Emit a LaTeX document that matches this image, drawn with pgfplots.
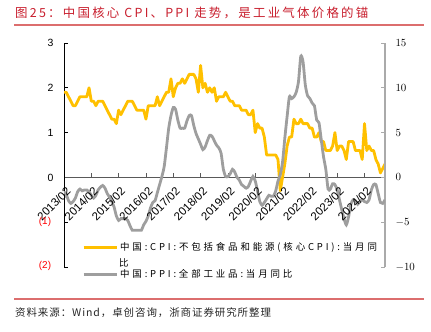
\documentclass[border=0pt]{standalone}
\usepackage{fontspec}
\setmainfont{Liberation Sans}
\newfontfamily\titlefont[LetterSpace=18]{Noto Sans CJK SC}
\newfontfamily\legfont[LetterSpace=30]{Noto Sans CJK SC}
\newfontfamily\srcfont[LetterSpace=9]{Noto Sans CJK SC}
\usepackage{pgfplots}
\usepackage{pgfplotstable}
\pgfplotsset{compat=1.18}
\definecolor{cpiY}{RGB}{255,192,0}
\definecolor{ppiG}{RGB}{158,158,158}
\definecolor{titleR}{RGB}{200,30,45}
\definecolor{lineR}{RGB}{220,110,110}
\definecolor{axisG}{RGB}{170,170,170}
\definecolor{darkG}{RGB}{89,89,89}
\tikzset{xlab/.style={rotate=45, anchor=north east, inner sep=0pt, font=\fontsize{11.5}{13}\selectfont}}

\pgfplotstableread{
m cpi ppi
0 1.9 -1.6
1 1.9 -1.9
2 1.8 -2.6
3 1.7 -2.9
4 1.6 -2.7
5 1.6 -2.3
6 1.7 -1.6
7 1.8 -1.3
8 1.8 -1.5
9 1.8 -1.4
10 1.8 -1.4
11 2.0 -1.6
12 1.7 -2.0
13 1.7 -2.3
14 1.6 -2.0
15 1.7 -1.4
16 1.7 -1.1
17 1.7 -0.9
18 1.6 -1.2
19 1.5 -1.8
20 1.4 -2.2
21 1.3 -2.7
22 1.3 -3.3
23 1.2 -4.3
24 1.5 -4.8
25 1.4 -4.6
26 1.5 -4.6
27 1.6 -4.6
28 1.7 -4.8
29 1.7 -5.4
30 1.7 -5.9
31 1.6 -5.9
32 1.5 -5.9
33 1.5 -5.9
34 1.5 -5.9
35 1.5 -5.3
36 1.3 -4.9
37 1.6 -4.3
38 1.6 -3.4
39 1.6 -2.8
40 1.6 -2.6
41 1.8 -1.7
42 1.6 -0.8
43 1.7 0.1
44 1.8 1.2
45 1.9 3.3
46 1.9 5.5
47 2.2 6.9
48 1.8 7.8
49 2.0 7.6
50 2.1 6.4
51 2.1 5.5
52 2.2 5.5
53 2.1 5.5
54 2.2 6.3
55 2.3 6.9
56 2.3 6.9
57 2.3 5.8
58 2.2 4.9
59 1.9 4.3
60 2.5 3.7
61 2.0 3.1
62 2.1 3.4
63 1.9 4.1
64 2.0 4.7
65 1.9 4.6
66 2.0 4.1
67 1.7 3.6
68 1.8 3.3
69 1.8 2.7
70 1.8 0.9
71 1.9 0.1
72 1.8 0.1
73 1.7 0.4
74 1.7 0.9
75 1.6 0.6
76 1.6 0.0
77 1.6 -0.3
78 1.5 -0.8
79 1.5 -1.0
80 1.5 -1.2
81 1.4 -1.0
82 1.4 -0.4
83 1.5 0.1
84 1.0 -0.4
85 1.2 -1.5
86 1.1 -2.7
87 1.1 -3.1
88 0.9 -2.8
89 0.5 -2.4
90 0.5 -2.0
91 0.5 -2.1
92 0.5 -2.1
93 0.5 -1.5
94 0.4 -0.4
95 -0.3 0.3
96 0.0 1.7
97 0.3 4.4
98 0.7 6.8
99 0.9 9.0
100 0.9 8.8
101 1.3 9.0
102 1.2 9.5
103 1.2 10.7
104 1.3 13.5
105 1.2 12.9
106 1.2 10.3
107 1.2 9.1
108 1.1 8.8
109 1.1 8.3
110 0.9 8.0
111 0.9 6.4
112 1.0 6.1
113 0.8 4.2
114 0.8 2.3
115 0.6 0.9
116 0.6 -1.3
117 0.6 -1.3
118 0.7 -0.7
119 1.0 -0.8
120 0.6 -1.4
121 0.7 -2.5
122 0.7 -3.6
123 0.6 -4.6
124 0.4 -5.3
125 0.8 -4.4
126 0.8 -3.0
127 0.8 -2.5
128 0.6 -2.6
129 0.6 -3.0
130 0.6 -2.7
131 0.4 -2.5
132 1.2 -2.7
133 0.6 -2.8
134 0.7 -2.5
135 0.6 -1.4
136 0.6 -0.8
137 0.4 -0.8
138 0.3 -1.8
139 0.1 -2.8
140 0.2 -2.9
141 0.3 -2.5
}\data

\begin{document}
\begin{tikzpicture}[x=1bp,y=1bp]
\path[use as bounding box] (0,0) rectangle (431,332);
% title and rules
\node[anchor=west, inner sep=0pt, text=titleR, font=\titlefont\fontsize{12.5}{14}\selectfont] at (15,319) {图25：中国核心 CPI、PPI 走势，是工业气体价格的锚};
\draw[lineR, line width=1.3bp] (14,307) -- (424,307);
\draw[lineR, line width=1.3bp] (14,33) -- (424,33);
\node[anchor=west, inner sep=0pt, text=black!85, font=\srcfont\fontsize{10.5}{12}\selectfont] at (15,19) {资料来源：Wind，卓创咨询，浙商证券研究所整理};

\begin{axis}[
  at={(64bp,65bp)}, anchor=south west,
  scale only axis, width=321bp, height=224bp,
  xmin=0, xmax=141, ymin=-2, ymax=3,
  axis y line*=left, axis x line*=middle,
  ytick={-2,-1,0,1,2,3}, yticklabels={,,0,1,2,3},
  xtick={0,12,...,132}, xticklabels={},
  tick align=inside, major tick length=4bp,
  x axis line style={draw=darkG, line width=1.2bp},
  y axis line style={draw=black, line width=1bp},
  xtick style={draw=darkG, line width=0.8bp},
  ytick style={draw=black, line width=0.8bp},
  yticklabel style={xshift=-7bp, font=\fontsize{10.5}{12}\selectfont},
]
\addplot[cpiY, line width=2.8bp, line join=round] table[x=m, y=cpi]{\data};
\end{axis}

\begin{axis}[
  at={(64bp,65bp)}, anchor=south west,
  scale only axis, width=321bp, height=224bp,
  xmin=0, xmax=141, ymin=-10, ymax=15,
  axis y line*=right, axis x line=none,
  ytick={-10,-5,0,5,10,15},
  tick align=inside, major tick length=4bp,
  y axis line style={draw=axisG, line width=1.3bp},
  ytick style={draw=axisG, line width=0.8bp},
  yticklabel style={xshift=7bp, font=\fontsize{10.5}{12}\selectfont},
  legend style={at={(rel axis cs:0.056,0.12)}, anchor=north west, draw=none, fill=none,
    font=\legfont\fontsize{9.5}{11}\selectfont, row sep=14bp, inner sep=0pt},
  legend cell align=left,
  legend image code/.code={\draw[#1] (0bp,0bp) -- (33bp,0bp);},
]
\addlegendimage{cpiY, line width=3bp}
\addlegendentry{中国:CPI:不包括食品和能源(核心CPI):当月同}
\addplot[ppiG, line width=2.8bp, smooth, tension=0.4] table[x=m, y=ppi]{\data};
\addlegendentry{中国:PPI:全部工业品:当月同比}
\end{axis}
\node[anchor=west, inner sep=0pt, font=\legfont\fontsize{9.5}{11}\selectfont] at (119,69) {比};
% x tick labels (ticks every 12 months; 321bp / 141 months)
\node[xlab] at (65.5,146) {2013/02};
\node[xlab] at (92.8,146) {2014/02};
\node[xlab] at (120.1,146) {2015/02};
\node[xlab] at (147.5,146) {2016/02};
\node[xlab] at (174.8,146) {2017/02};
\node[xlab] at (202.1,146) {2018/02};
\node[xlab] at (229.4,146) {2019/02};
\node[xlab] at (256.7,146) {2020/02};
\node[xlab] at (284.0,146) {2021/02};
\node[xlab] at (311.4,146) {2022/02};
\node[xlab] at (338.7,146) {2023/02};
\node[xlab] at (366.0,146) {2024/02};
\node[text=red, font=\fontsize{10}{12}\selectfont] at (45,110) {(1)};
\node[text=red, font=\fontsize{10}{12}\selectfont] at (45,66) {(2)};
\end{tikzpicture}
\end{document}
